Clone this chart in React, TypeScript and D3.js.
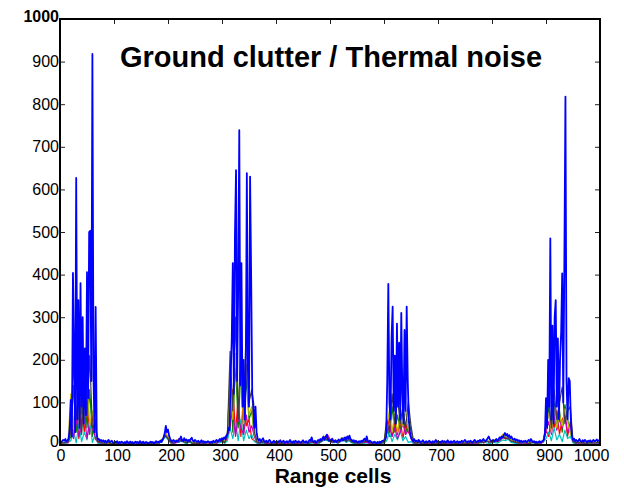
import { useRef, useEffect } from "react";
import { select, scaleLinear, axisBottom, axisLeft, axisTop, axisRight, line } from "d3";

const W = 624;
const H = 488;
const margin = { top: 19, right: 24, bottom: 43, left: 60 };
const WIDTH = W - margin.left - margin.right;
const HEIGHT = H - margin.top - margin.bottom;
const FONT = "'Liberation Sans', Arial, Helvetica, sans-serif";

const TITLE = "Ground clutter / Thermal noise";
const X_LABEL = "Range cells";
const X_TICKS = [0, 100, 200, 300, 400, 500, 600, 700, 800, 900, 1000];
const Y_TICKS = [0, 100, 200, 300, 400, 500, 600, 700, 800, 900, 1000];

// blue trace, one value every 2 range cells (0..1000)
const BLUE_STEP = 2;
const blueSeries = [
  4, 6, 9, 12, 10, 14, 8, 11, 15, 40,
  106, 20, 404, 204, 30, 627, 60, 340, 40, 380,
  90, 300, 50, 227, 70, 406, 110, 500, 503, 150,
  918, 160, 30, 324, 25, 12, 14, 9, 12, 8,
  11, 7, 10, 6, 9, 12, 7, 8, 10, 6,
  5, 8, 6, 9, 4, 7, 5, 8, 6, 4,
  7, 5, 9, 6, 4, 8, 5, 7, 3, 6,
  8, 5, 7, 4, 9, 6, 5, 8, 4, 6,
  7, 5, 3, 6, 8, 5, 7, 4, 6, 9,
  6, 8, 5, 10, 7, 12, 18, 28, 45, 30,
  36, 22, 14, 10, 8, 12, 9, 7, 10, 8,
  12, 14, 20, 11, 9, 16, 10, 13, 8, 12,
  9, 14, 17, 10, 8, 12, 9, 7, 10, 6,
  8, 11, 7, 9, 5, 8, 6, 9, 7, 5,
  8, 6, 10, 7, 9, 12, 8, 11, 14, 10,
  16, 12, 18, 14, 22, 25, 40, 35, 160, 246,
  427, 120, 497, 645, 150, 372, 739, 140, 427, 90,
  200, 60, 152, 638, 180, 90, 630, 395, 120, 98,
  40, 90, 30, 15, 10, 14, 8, 12, 16, 9,
  7, 10, 6, 9, 12, 8, 5, 7, 10, 6,
  8, 5, 9, 7, 11, 6, 8, 10, 5, 7,
  9, 6, 8, 12, 7, 5, 9, 6, 10, 8,
  6, 9, 7, 5, 8, 11, 7, 6, 9, 5,
  8, 12, 10, 18, 9, 7, 10, 6, 8, 12,
  9, 14, 10, 16, 20, 12, 18, 24, 14, 10,
  12, 9, 15, 10, 8, 11, 7, 10, 13, 9,
  12, 16, 10, 14, 18, 12, 20, 15, 22, 14,
  12, 9, 11, 7, 10, 8, 6, 9, 7, 10,
  8, 12, 15, 10, 20, 9, 7, 10, 8, 6,
  5, 8, 6, 4, 7, 5, 8, 6, 9, 10,
  10, 12, 20, 150, 378, 100, 60, 250, 325, 80,
  210, 50, 285, 90, 240, 60, 310, 120, 50, 270,
  80, 325, 150, 60, 30, 18, 12, 9, 14, 8,
  10, 7, 12, 9, 6, 8, 11, 7, 5, 9,
  6, 8, 10, 7, 5, 9, 6, 8, 12, 7,
  9, 6, 8, 5, 10, 7, 9, 6, 8, 11,
  7, 5, 9, 6, 8, 10, 6, 7, 9, 5,
  8, 6, 10, 7, 9, 12, 8, 6, 9, 7,
  10, 8, 6, 9, 12, 8, 7, 10, 9, 12,
  8, 11, 14, 10, 9, 12, 16, 20, 13, 10,
  9, 12, 8, 11, 14, 10, 13, 18, 15, 20,
  17, 24, 28, 22, 26, 19, 23, 16, 20, 14,
  12, 15, 10, 13, 9, 11, 8, 10, 7, 9,
  8, 10, 7, 9, 12, 8, 14, 10, 7, 9,
  6, 8, 5, 7, 9, 6, 8, 10, 12, 25,
  110, 40, 200, 90, 485, 60, 280, 50, 300, 340,
  90, 250, 60, 200, 262, 403, 100, 430, 818, 150,
  60, 157, 150, 58, 20, 12, 15, 9, 12, 8,
  10, 14, 9, 7, 11, 8, 12, 9, 6, 10,
  8, 11, 7, 9, 12, 8, 10, 13, 9, 11,
  10,
];

// the other traces, one value every 5 range cells (0..1000)
const OTHER_STEP = 5;
const greenSeries = [
  4, 3, 5, 6, 20, 140, 30, 110, 25, 150,
  40, 130, 20, 60, 7, 4, 6, 3, 5, 4,
  3, 5, 4, 3, 5, 4, 6, 3, 4, 5,
  4, 5, 3, 4, 5, 6, 3, 9, 13, 24,
  14, 7, 5, 11, 6, 13, 8, 5, 7, 4,
  5, 4, 6, 3, 5, 4, 6, 5, 4, 7,
  8, 7, 22, 170, 30, 200, 40, 180, 25, 160,
  60, 80, 22, 5, 6, 4, 5, 3, 5, 4,
  5, 4, 6, 4, 3, 5, 6, 4, 5, 3,
  5, 4, 6, 5, 7, 5, 4, 11, 14, 18,
  10, 7, 8, 6, 9, 16, 11, 14, 8, 6,
  5, 7, 4, 6, 9, 5, 4, 3, 5, 4,
  6, 45, 20, 90, 30, 70, 35, 80, 25, 60,
  35, 5, 3, 5, 4, 6, 3, 5, 4, 5,
  6, 4, 5, 3, 6, 4, 5, 4, 6, 3,
  5, 4, 5, 6, 4, 5, 7, 6, 10, 6,
  7, 11, 8, 12, 21, 17, 14, 11, 7, 6,
  5, 4, 6, 4, 6, 5, 7, 4, 6, 8,
  45, 90, 30, 100, 40, 80, 30, 95, 60, 30,
  8, 6, 5, 7, 4, 6, 5, 3, 5, 6,
  5,
];
const redSeries = [
  3, 4, 5, 7, 65, 20, 80, 15, 90, 30,
  100, 25, 70, 15, 6, 5, 3, 4, 5, 3,
  4, 3, 5, 4, 3, 6, 4, 3, 5, 4,
  3, 4, 2, 5, 4, 3, 5, 7, 12, 25,
  16, 5, 4, 9, 7, 11, 6, 4, 8, 5,
  4, 5, 3, 6, 4, 3, 5, 4, 6, 8,
  9, 5, 18, 40, 130, 30, 110, 20, 120, 45,
  60, 15, 10, 6, 4, 7, 3, 5, 4, 6,
  3, 5, 4, 3, 6, 4, 3, 5, 4, 6,
  4, 6, 3, 7, 5, 4, 6, 9, 15, 20,
  11, 6, 9, 5, 11, 13, 9, 16, 6, 5,
  4, 6, 5, 7, 8, 4, 3, 5, 4, 6,
  5, 30, 65, 20, 55, 25, 60, 15, 50, 30,
  20, 4, 5, 3, 6, 4, 3, 5, 4, 6,
  3, 5, 4, 6, 3, 5, 4, 6, 3, 5,
  4, 6, 3, 5, 6, 4, 9, 5, 11, 7,
  6, 9, 7, 11, 18, 14, 16, 9, 7, 5,
  4, 6, 3, 5, 4, 7, 3, 5, 6, 7,
  35, 20, 65, 40, 80, 25, 60, 70, 20, 55,
  7, 4, 6, 3, 5, 4, 6, 5, 4, 5,
  4,
];
const cyanSeries = [
  2, 3, 4, 6, 10, 35, 5, 50, 8, 30,
  12, 60, 6, 25, 4, 3, 5, 2, 4, 3,
  2, 4, 3, 5, 2, 3, 4, 2, 3, 5,
  3, 2, 4, 3, 2, 5, 4, 6, 10, 20,
  12, 5, 3, 8, 6, 10, 5, 4, 7, 3,
  2, 4, 3, 2, 5, 3, 4, 2, 6, 5,
  8, 4, 10, 40, 15, 55, 10, 60, 10, 35,
  15, 25, 8, 4, 3, 5, 2, 4, 3, 5,
  2, 4, 3, 2, 5, 3, 4, 2, 3, 4,
  3, 5, 2, 4, 6, 3, 4, 8, 12, 10,
  8, 5, 6, 4, 8, 12, 6, 10, 5, 4,
  3, 5, 2, 4, 6, 3, 2, 4, 3, 5,
  4, 10, 30, 8, 25, 12, 35, 10, 20, 6,
  8, 3, 4, 2, 5, 3, 2, 4, 3, 2,
  4, 3, 2, 5, 3, 4, 2, 3, 5, 4,
  3, 2, 4, 3, 5, 6, 4, 8, 5, 3,
  5, 6, 4, 8, 12, 10, 14, 6, 5, 4,
  3, 5, 2, 4, 3, 6, 4, 3, 5, 6,
  15, 30, 10, 40, 12, 25, 8, 35, 15, 20,
  5, 3, 4, 2, 5, 3, 4, 6, 3, 4,
  3,
];
const magentaSeries = [
  3, 4, 6, 5, 45, 15, 60, 20, 45, 70,
  15, 55, 40, 20, 8, 5, 4, 6, 3, 5,
  4, 3, 5, 2, 4, 6, 3, 4, 5, 3,
  4, 2, 5, 3, 6, 4, 3, 8, 12, 30,
  18, 6, 4, 5, 15, 8, 10, 6, 12, 5,
  4, 6, 3, 5, 4, 3, 5, 6, 4, 8,
  10, 6, 20, 55, 80, 20, 65, 40, 25, 70,
  30, 45, 20, 6, 4, 8, 5, 3, 6, 4,
  5, 3, 4, 6, 3, 5, 4, 6, 3, 5,
  4, 6, 3, 8, 5, 4, 6, 10, 18, 25,
  14, 6, 8, 5, 10, 15, 12, 18, 8, 6,
  5, 4, 6, 8, 5, 3, 4, 6, 3, 5,
  6, 25, 45, 20, 40, 15, 30, 50, 25, 35,
  15, 5, 4, 6, 3, 5, 4, 3, 6, 4,
  5, 3, 6, 4, 5, 3, 4, 6, 5, 3,
  4, 6, 3, 5, 4, 6, 8, 5, 12, 6,
  7, 10, 8, 12, 22, 15, 18, 10, 8, 6,
  5, 4, 6, 3, 5, 8, 4, 6, 3, 8,
  30, 55, 25, 70, 35, 60, 40, 75, 30, 45,
  8, 5, 4, 6, 3, 5, 7, 4, 6, 5,
  4,
];
const yellowSeries = [
  4, 5, 7, 8, 120, 40, 160, 50, 130, 60,
  170, 45, 80, 30, 10, 6, 5, 7, 4, 6,
  5, 4, 6, 3, 5, 7, 4, 5, 6, 4,
  5, 3, 6, 4, 7, 5, 4, 10, 15, 28,
  20, 8, 6, 12, 10, 14, 8, 6, 10, 5,
  6, 4, 7, 5, 3, 6, 5, 4, 8, 10,
  12, 8, 30, 150, 60, 215, 100, 180, 50, 190,
  70, 90, 25, 8, 6, 10, 5, 7, 4, 6,
  5, 7, 4, 6, 8, 5, 3, 6, 7, 4,
  6, 8, 5, 10, 7, 6, 8, 12, 20, 15,
  10, 8, 12, 7, 14, 18, 10, 15, 9, 6,
  7, 5, 8, 10, 12, 6, 5, 7, 4, 6,
  8, 40, 82, 30, 75, 30, 70, 45, 80, 40,
  20, 7, 5, 8, 4, 6, 5, 7, 4, 6,
  5, 7, 4, 6, 8, 5, 6, 4, 7, 5,
  6, 4, 7, 5, 8, 6, 10, 7, 12, 8,
  9, 12, 10, 15, 25, 20, 18, 12, 9, 7,
  6, 8, 5, 7, 4, 9, 6, 5, 8, 10,
  40, 75, 30, 90, 40, 70, 45, 85, 55, 30,
  10, 6, 8, 5, 7, 4, 6, 8, 5, 7,
  6,
];
const graySeries = [
  3, 5, 6, 8, 30, 200, 60, 150, 30, 180,
  70, 210, 40, 50, 8, 6, 4, 5, 6, 3,
  4, 5, 3, 6, 4, 5, 3, 4, 6, 5,
  4, 3, 5, 4, 6, 3, 5, 8, 14, 22,
  15, 6, 5, 10, 8, 12, 7, 5, 9, 4,
  5, 3, 6, 4, 5, 7, 4, 5, 7, 9,
  10, 6, 25, 220, 80, 300, 60, 250, 90, 280,
  100, 130, 30, 7, 5, 8, 4, 6, 3, 5,
  4, 6, 3, 5, 7, 4, 5, 3, 6, 4,
  5, 7, 4, 8, 6, 5, 7, 10, 16, 12,
  9, 7, 10, 6, 12, 14, 8, 13, 7, 5,
  6, 4, 7, 9, 10, 5, 4, 6, 3, 5,
  7, 60, 30, 120, 50, 110, 50, 90, 40, 100,
  45, 6, 4, 7, 3, 5, 4, 6, 3, 5,
  4, 6, 3, 5, 7, 4, 5, 3, 6, 4,
  5, 3, 6, 4, 7, 5, 8, 6, 10, 7,
  8, 10, 9, 13, 20, 16, 15, 10, 8, 6,
  5, 7, 4, 6, 3, 8, 5, 4, 7, 9,
  50, 110, 40, 130, 60, 100, 136, 50, 80, 90,
  9, 5, 7, 4, 6, 3, 5, 7, 4, 6,
  5,
];

const SERIES = [
  { values: greenSeries, step: OTHER_STEP, color: "#008000", width: 1.2 },
  { values: redSeries, step: OTHER_STEP, color: "#ff0000", width: 1.2 },
  { values: cyanSeries, step: OTHER_STEP, color: "#00bfbf", width: 1.2 },
  { values: magentaSeries, step: OTHER_STEP, color: "#bf00bf", width: 1.2 },
  { values: yellowSeries, step: OTHER_STEP, color: "#bfbf00", width: 1.2 },
  { values: graySeries, step: OTHER_STEP, color: "#404040", width: 1.2 },
  { values: blueSeries, step: BLUE_STEP, color: "#0000ff", width: 1.8 },
];

function RangeProfile() {
  const svgRef = useRef<SVGSVGElement>(null);

  useEffect(() => {
    const svg = select(svgRef.current);
    const chart = svg.select(".chart");

    const x = scaleLinear().domain([0, 1000]).range([0, WIDTH]);
    const y = scaleLinear().domain([0, 1000]).range([HEIGHT, 0]);

    // traces
    const trace = line<[number, number]>()
      .x(d => x(d[0]))
      .y(d => y(d[1]));
    chart.select(".lines")
      .selectAll("path")
      .data(SERIES)
      .join("path")
      .attr("d", s => trace(s.values.map((v, i) => [i * s.step, v] as [number, number])))
      .attr("fill", "none")
      .attr("stroke", s => s.color)
      .attr("stroke-width", s => s.width)
      .attr("stroke-linejoin", "round");

    const styleAxis = (g: any) => {
      g.select(".domain").remove();
      g.attr("font-family", FONT).attr("font-size", 16);
      g.selectAll(".tick line").attr("stroke", "#222");
      g.selectAll(".tick text").attr("fill", "#000");
    };

    // x-axis
    chart.select(".x-axis")
      .attr("transform", `translate(0,${HEIGHT})`)
      .call(axisBottom(x).tickValues(X_TICKS).tickFormat(d => String(d)).tickSizeInner(-5).tickSizeOuter(0).tickPadding(5) as any)
      .call(styleAxis)
      .selectAll(".tick text")
      .attr("dx", (d: any) => (d === 1000 ? -9 : d === 0 ? 0.5 : 3));
    chart.select(".x-axis-top")
      .call(axisTop(x).tickValues(X_TICKS).tickSizeInner(-5).tickSizeOuter(0).tickFormat(() => "") as any)
      .call(styleAxis);

    // y-axis
    const yAxis = chart.select(".y-axis")
      .call(axisLeft(y).tickValues(Y_TICKS).tickFormat(d => String(d)).tickSizeInner(-5).tickSizeOuter(0).tickPadding(1) as any)
      .call(styleAxis);
    yAxis.selectAll(".tick text")
      .filter((d: any) => d === 1000)
      .attr("font-weight", "bold")
      .attr("dy", "0.18em");
    yAxis.selectAll(".tick text")
      .filter((d: any) => d === 0)
      .attr("dy", "0.12em");
    chart.select(".y-axis-right")
      .attr("transform", `translate(${WIDTH},0)`)
      .call(axisRight(y).tickValues(Y_TICKS).tickSizeInner(-5).tickSizeOuter(0).tickFormat(() => "") as any)
      .call(styleAxis);

    // frame
    chart.select(".frame")
      .attr("width", WIDTH)
      .attr("height", HEIGHT)
      .attr("fill", "none")
      .attr("stroke", "#000")
      .attr("stroke-width", 2);

    // title
    chart.select(".title")
      .attr("x", 271)
      .attr("y", 48)
      .attr("text-anchor", "middle")
      .style("font-family", FONT)
      .style("font-size", "29px")
      .style("font-weight", "bold")
      .text(TITLE);

    // x-label
    chart.select(".x-label")
      .attr("x", 273)
      .attr("y", HEIGHT + 38)
      .attr("text-anchor", "middle")
      .style("font-family", FONT)
      .style("font-size", "21px")
      .style("font-weight", "bold")
      .text(X_LABEL);
  }, []);

  return (
    <svg
      ref={svgRef}
      width={W}
      height={H}
      style={{ position: "absolute", left: 0, top: 0, background: "#fff" }}
    >
      <g className="chart" transform={`translate(${margin.left}, ${margin.top})`}>
        <g className="lines" />
        <g className="x-axis" />
        <g className="x-axis-top" />
        <g className="y-axis" />
        <g className="y-axis-right" />
        <rect className="frame" />
        <text className="title" />
        <text className="x-label" />
      </g>
    </svg>
  );
}

export default function App() {
  return <RangeProfile />;
}
